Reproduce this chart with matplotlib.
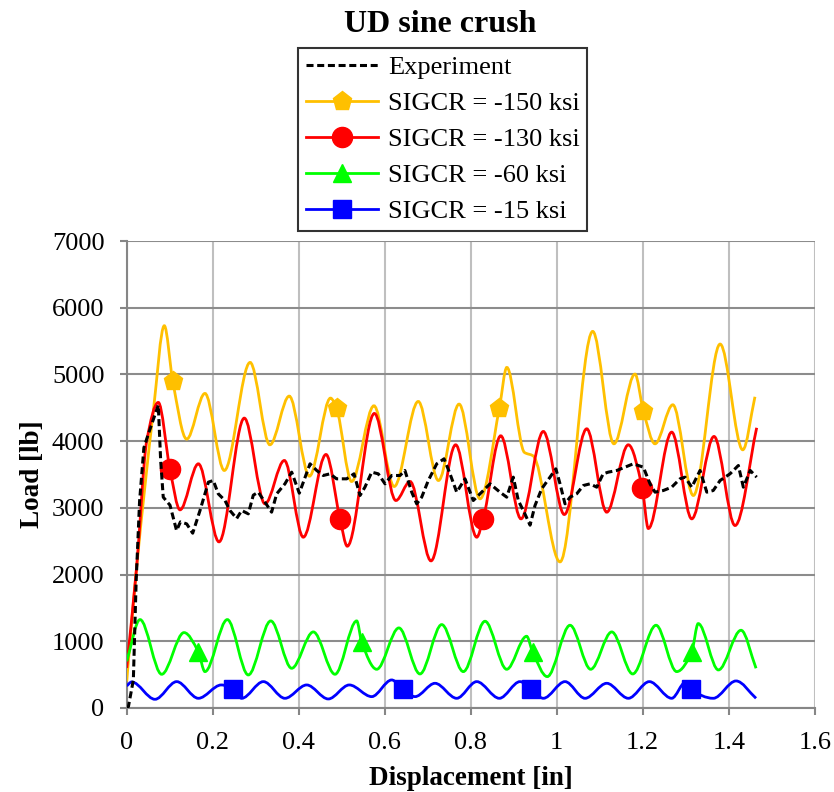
import numpy as np
import matplotlib
matplotlib.use('Agg')
from matplotlib import pyplot as plt
from matplotlib.path import Path
from matplotlib.patches import PathPatch
from matplotlib.lines import Line2D

plt.rcParams['font.family'] = ['Liberation Serif', 'DejaVu Serif']

# experiment
exp_x = [0.0, 0.004, 0.0155, 0.022, 0.03, 0.04, 0.05, 0.0735, 0.079, 0.085, 0.1007,
         0.116, 0.125, 0.1395, 0.1535, 0.1705, 0.19, 0.2014, 0.213, 0.2286, 0.2402,
         0.2558, 0.2674, 0.2828, 0.2944, 0.306, 0.3216, 0.337, 0.3488, 0.368, 0.3837,
         0.4014, 0.4263, 0.4419, 0.4572, 0.4728, 0.488, 0.5116, 0.5286, 0.5426, 0.554,
         0.5698, 0.585, 0.6007, 0.6163, 0.6356, 0.647, 0.6628, 0.6744, 0.686, 0.7014,
         0.721, 0.738, 0.7519, 0.7674, 0.7867, 0.806, 0.8216, 0.845, 0.868, 0.8837,
         0.899, 0.9107, 0.926, 0.938, 0.9495, 0.965, 0.9844, 0.998, 1.0077, 1.0193,
         1.031, 1.0465, 1.062, 1.0775, 1.093, 1.108, 1.12, 1.1395, 1.159, 1.178,
         1.2014, 1.217, 1.2286, 1.248, 1.2674, 1.2867, 1.2984, 1.314, 1.3333, 1.349,
         1.364, 1.38, 1.403, 1.4224, 1.434, 1.45, 1.465]
exp_y = [0, 20, 420, 1900, 3100, 3900, 4100, 4540, 3710, 3160, 3040,
         2660, 2790, 2760, 2620, 2960, 3385, 3410, 3210, 3110, 2960,
         2840, 2960, 2910, 3190, 3235, 3085, 2935, 3210, 3360, 3535,
         3220, 3660, 3560, 3485, 3510, 3435, 3435, 3510, 3185, 3310,
         3535, 3510, 3360, 3485, 3485, 3560, 3235, 3060, 3160, 3410,
         3660, 3735, 3510, 3235, 3435, 3110, 3210, 3360, 3235, 3160,
         3460, 3110, 2910, 2740, 3035, 3285, 3460, 3585, 3360, 3060,
         3160, 3210, 3335, 3360, 3310, 3510, 3535, 3560, 3610, 3660,
         3610, 3360, 3235, 3260, 3310, 3435, 3460, 3310, 3560, 3235,
         3260, 3410, 3510, 3635, 3310, 3560, 3460]

# SIGCR = -150 ksi
s150_x = [0.0, 0.023, 0.062, 0.0875, 0.1395, 0.182, 0.227, 0.287, 0.333, 0.378, 0.425,
          0.474, 0.523, 0.575, 0.622, 0.678, 0.725, 0.773, 0.8216, 0.884, 0.925,
          0.945, 1.0077, 1.0837, 1.133, 1.182, 1.2286, 1.27, 1.3177, 1.38, 1.4326, 1.461]
s150_y = [400, 2100, 4450, 5730, 4030, 4715, 3560, 5180, 3945, 4675, 3475,
          4645, 3395, 4530, 3320, 4595, 3410, 4555, 3135, 5105, 3830,
          3780, 2190, 5645, 3960, 5005, 3960, 4545, 3185, 5455, 3870, 4665]
s150_mx = [0.107, 0.488, 0.8666, 1.2014]
s150_my = [4905, 4490, 4495, 4455]

# SIGCR = -130 ksi
s130_x = [0.0, 0.023, 0.0465, 0.0735, 0.124, 0.1667, 0.2147, 0.2735, 0.3216, 0.3666,
          0.4107, 0.4635, 0.513, 0.576, 0.626, 0.659, 0.7077, 0.765, 0.814, 0.8698,
          0.917, 0.9688, 1.0177, 1.0698, 1.1163, 1.1665, 1.213, 1.2674, 1.314, 1.3658,
          1.4147, 1.465]
s130_y = [600, 2100, 4000, 4580, 2970, 3660, 2490, 4345, 3060, 3710,
          2560, 3800, 2425, 4415, 3110, 3395, 2205, 3945, 2560, 4080,
          2835, 4145, 2900, 4185, 2935, 3945, 2690, 4135, 2835, 4070,
          2735, 4200]
s130_mx = [0.1007, 0.496, 0.829, 1.199]
s130_my = [3575, 2835, 2835, 3295]

# SIGCR = -60 ksi
s60_x = [0.0, 0.031, 0.0814, 0.1333, 0.182, 0.234, 0.2828, 0.335, 0.3837, 0.434,
         0.4844, 0.5349, 0.5814, 0.633, 0.682, 0.7326, 0.7828, 0.8333, 0.8837, 0.93,
         0.978, 1.031, 1.079, 1.128, 1.1767, 1.231, 1.279, 1.329, 1.376, 1.4286, 1.4635]
s60_y = [700, 1325, 505, 1130, 545, 1325, 495, 1305, 595, 1140,
         505, 1305, 580, 1200, 510, 1250, 545, 1300, 580, 1075,
         470, 1240, 580, 1140, 510, 1240, 545, 1265, 570, 1165, 595]
s60_mx = [0.1667, 0.5465, 0.944, 1.314]
s60_my = [840, 990, 840, 840]

# SIGCR = -15 ksi
s15_x = [0.0, 0.0116, 0.0658, 0.1163, 0.1667, 0.22, 0.2674, 0.3178, 0.368, 0.4186,
         0.4688, 0.5177, 0.5698, 0.6163, 0.6705, 0.717, 0.7674, 0.814, 0.8666, 0.9147,
         0.9689, 1.0193, 1.0659, 1.1163, 1.1666, 1.2154, 1.2674, 1.30, 1.364, 1.417,
         1.4635]
s15_y = [330, 390, 130, 395, 145, 345, 145, 395, 145, 345,
         135, 345, 170, 420, 170, 370, 145, 395, 145, 395,
         145, 395, 145, 370, 145, 395, 145, 390, 145, 405,
         145]
s15_mx = [0.248, 0.642, 0.9403, 1.3123]
s15_my = [280, 280, 280, 280]

labels = ['Experiment', 'SIGCR = -150 ksi', 'SIGCR = -130 ksi',
          'SIGCR = -60 ksi', 'SIGCR = -15 ksi']
colors = ['#000000', '#FFC000', '#FF0000', '#00FF00', '#0000FF']
markers = [None, 'p', 'o', '^', 's']
msizes = [0, 14, 14.5, 13, 13]


def smooth_path(x, y):
    # excel-like smoothed line: cubic bezier segments with monotone tangents
    x = np.asarray(x, float)
    y = np.asarray(y, float)
    h = np.diff(x)
    d = np.diff(y) / h
    m = np.zeros_like(y)
    m[0], m[-1] = d[0], d[-1]
    for k in range(1, len(x) - 1):
        if d[k - 1] * d[k] > 0:
            w1 = 2 * h[k] + h[k - 1]
            w2 = h[k] + 2 * h[k - 1]
            m[k] = (w1 + w2) / (w1 / d[k - 1] + w2 / d[k])
    verts = [(x[0], y[0])]
    codes = [Path.MOVETO]
    for i in range(len(x) - 1):
        verts += [(x[i] + h[i] / 3, y[i] + m[i] * h[i] / 3),
                  (x[i + 1] - h[i] / 3, y[i + 1] - m[i + 1] * h[i] / 3),
                  (x[i + 1], y[i + 1])]
        codes += [Path.CURVE4] * 3
    return Path(verts, codes)


def merged(x, y, mx, my):
    pts = sorted(zip(list(x) + list(mx), list(y) + list(my)))
    return [p[0] for p in pts], [p[1] for p in pts]


fig = plt.figure(figsize=(8.34, 7.92), dpi=100)
ax = fig.add_axes([0.1519, 0.1061, 0.825, 0.5896])

ax.plot(exp_x, exp_y, color='black', lw=2.2, dashes=(2.3, 1.2), zorder=5)

series = [(s150_x, s150_y, s150_mx, s150_my),
          (s130_x, s130_y, s130_mx, s130_my),
          (s60_x, s60_y, s60_mx, s60_my),
          (s15_x, s15_y, s15_mx, s15_my)]
for (sx, sy, mx, my), c, mk, ms in zip(series, colors[1:], markers[1:], msizes[1:]):
    px, py = merged(sx, sy, mx, my)
    ax.add_patch(PathPatch(smooth_path(px, py), fill=False, edgecolor=c,
                           lw=2.0, zorder=3))
    ax.plot(mx, my, ls='none', marker=mk, ms=ms, color=c, zorder=4)

ax.set_xlim(0, 1.6)
ax.set_ylim(0, 7000)
ax.set_xticks(np.arange(0, 1.61, 0.2))
ax.set_xticklabels(['0', '0.2', '0.4', '0.6', '0.8', '1', '1.2', '1.4', '1.6'])
ax.set_yticks(np.arange(0, 7001, 1000))
ax.tick_params(labelsize=19, colors='#868686', labelcolor='black', length=5, width=1.5)
ax.tick_params(axis='y', pad=11)
ax.tick_params(axis='x', pad=12)
ax.xaxis.grid(True, color='#BFBFBF', lw=1.5)
ax.yaxis.grid(True, color='#8C8C8C', lw=1.5)
ax.set_axisbelow(True)
for s in ['top', 'right']:
    ax.spines[s].set_visible(False)
for s in ['left', 'bottom']:
    ax.spines[s].set_color('#868686')
    ax.spines[s].set_linewidth(1.5)

ax.set_xlabel('Displacement [in]', fontsize=19.5, fontweight='bold', labelpad=9)
ax.set_ylabel('Load [lb]', fontsize=19.5, fontweight='bold', labelpad=5)
fig.suptitle('UD sine crush', fontsize=23, fontweight='bold', x=0.528, y=0.987)

handles = []
for c, mk, ms in zip(colors, markers, msizes):
    if mk is None:
        handles.append(Line2D([], [], color=c, lw=2.2, dashes=(2.3, 1.2)))
    else:
        handles.append(Line2D([], [], color=c, lw=2.0, marker=mk, ms=ms))
leg = fig.legend(handles, labels, loc='upper left',
                 bbox_to_anchor=(298 / 834, 1 - 48 / 792), borderaxespad=0,
                 fontsize=19, frameon=True, fancybox=False, edgecolor='black',
                 handlelength=2.75, handletextpad=0.35, labelspacing=0.47,
                 borderpad=0.3)
leg.get_frame().set_linewidth(1.5)

plt.savefig('out.png', dpi=100)
